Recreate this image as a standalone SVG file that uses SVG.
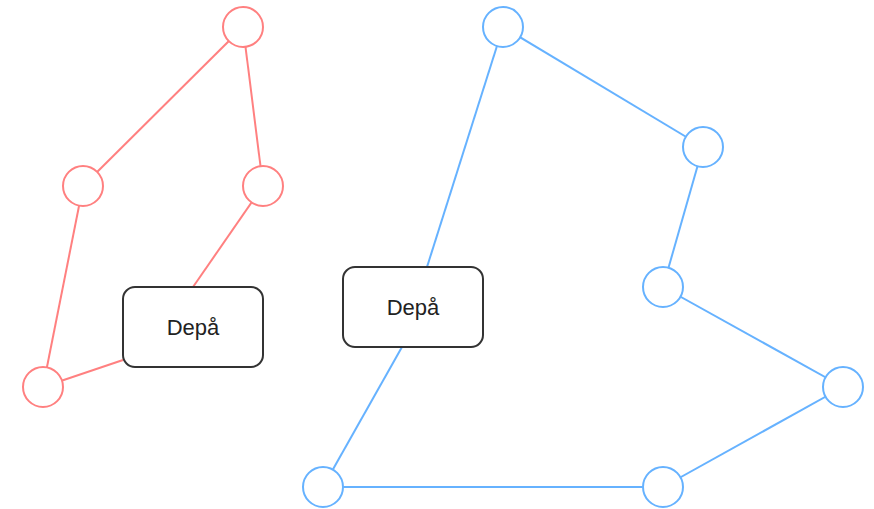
<svg xmlns="http://www.w3.org/2000/svg" width="874" height="509" viewBox="0 0 874 509">
<style>
.red{fill:#fff;stroke:#FF8080;stroke-width:2}
.blue{fill:#fff;stroke:#66B2FF;stroke-width:2}
.rl{fill:none;stroke:#FF8080;stroke-width:2}
.bl{fill:none;stroke:#66B2FF;stroke-width:2}
.depot{fill:#fff;stroke:#333;stroke-width:2}
.lbl{font-family:"Liberation Sans",Arial,sans-serif;font-size:22px;fill:#222;text-anchor:middle;dominant-baseline:central}
</style>
<rect width="874" height="509" fill="#fff"/>
<g id="connectors">
<path class="rl" d="M193,287 L263,186"/>
<path class="rl" d="M263,186 L243,27"/>
<path class="rl" d="M243,27 L83,186"/>
<path class="rl" d="M83,186 L43,387"/>
<path class="rl" d="M43,387 L123,360"/>
<path class="bl" d="M427,267 L503,27"/>
<path class="bl" d="M503,27 L703,147"/>
<path class="bl" d="M703,147 L663,287"/>
<path class="bl" d="M663,287 L843,387"/>
<path class="bl" d="M843,387 L663,487"/>
<path class="bl" d="M663,487 L323,487"/>
<path class="bl" d="M323,487 L402,347"/>
</g>
<g id="r1"><circle class="red" cx="243" cy="27" r="20"/></g>
<g id="r2"><circle class="red" cx="83" cy="186" r="20"/></g>
<g id="r3"><circle class="red" cx="263" cy="186" r="20"/></g>
<g id="r4"><circle class="red" cx="43" cy="387" r="20"/></g>
<g id="depot1"><rect class="depot" x="123" y="287" width="140" height="80" rx="12"/><text class="lbl" x="193" y="327">Depå</text></g>
<g id="b1"><circle class="blue" cx="503" cy="27" r="20"/></g>
<g id="b2"><circle class="blue" cx="703" cy="147" r="20"/></g>
<g id="b3"><circle class="blue" cx="663" cy="287" r="20"/></g>
<g id="b4"><circle class="blue" cx="843" cy="387" r="20"/></g>
<g id="b5"><circle class="blue" cx="663" cy="487" r="20"/></g>
<g id="b6"><circle class="blue" cx="323" cy="487" r="20"/></g>
<g id="depot2"><rect class="depot" x="343" y="267" width="140" height="80" rx="12"/><text class="lbl" x="413" y="307">Depå</text></g>
</svg>
